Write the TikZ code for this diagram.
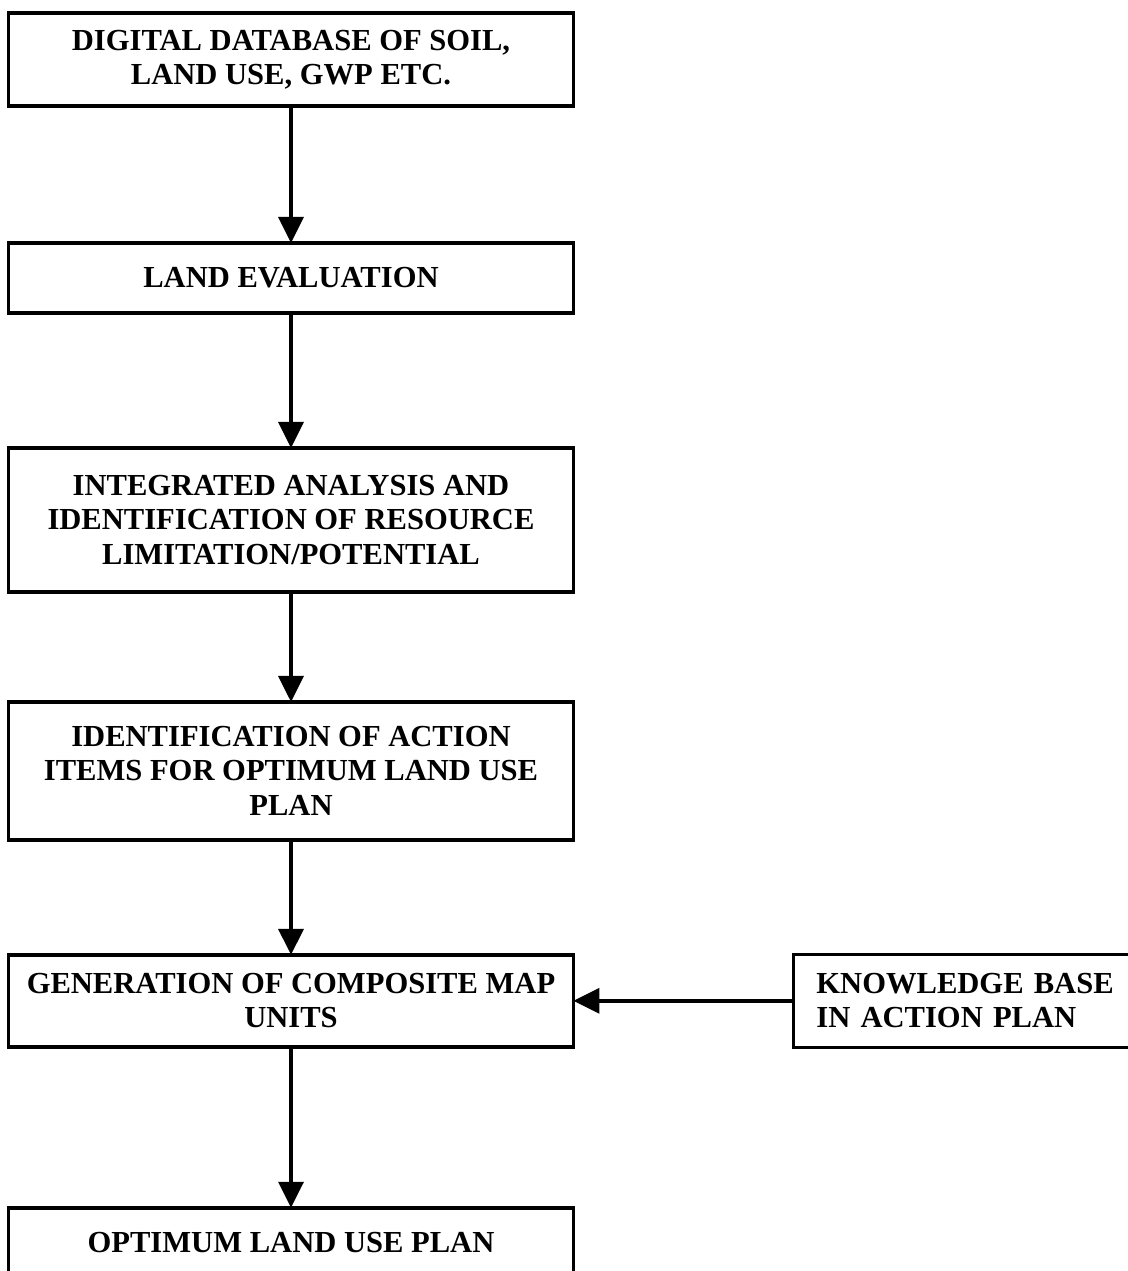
\documentclass[tikz,border=0pt]{standalone}
\usepackage{fontspec}
\setmainfont{Liberation Serif}
\usetikzlibrary{positioning,arrows.meta}

\begin{document}
\begin{tikzpicture}[
    x=0.02cm, y=-0.02cm,
    box/.style={rectangle, draw, line width=2pt, outer sep=0pt, minimum width=11.3cm, inner sep=0pt, align=center,
        font=\fontsize{17.4}{19.5}\selectfont\bfseries},
    kbox/.style={rectangle, draw, line width=2pt, outer sep=0pt, minimum height=1.86cm, inner xsep=0.46cm,
        text width=6.3cm, align=left, font=\fontsize{17.4}{19.5}\selectfont\bfseries},
    arrow/.style={-{Triangle[width=0.5cm,length=0.52cm]}, line width=2pt}
]
\useasboundingbox (0,0) rectangle (1128,1271);
\clip (0,0) rectangle (1128,1271);

\node[box, minimum height=1.86cm] (db) at (291,59.5) {DIGITAL DATABASE OF SOIL,\\LAND USE, GWP ETC.};
\node[box, minimum height=1.40cm, below=2.74cm of db] (landeval) {LAND EVALUATION};
\node[box, minimum height=2.88cm, below=2.70cm of landeval] (analysis) {INTEGRATED ANALYSIS AND\\IDENTIFICATION OF RESOURCE\\LIMITATION/POTENTIAL};
\node[box, minimum height=2.76cm, below=2.20cm of analysis] (actions) {IDENTIFICATION OF ACTION\\ITEMS FOR OPTIMUM LAND USE\\PLAN};
\node[box, minimum height=1.84cm, below=2.30cm of actions] (composite) {GENERATION OF COMPOSITE MAP\\UNITS};
\node[kbox, right=4.4cm of composite] (knowledge) {KNOWLEDGE BASE\\IN ACTION PLAN};
\node[box, minimum height=1.40cm, below=3.22cm of composite] (optplan) {OPTIMUM LAND USE PLAN};

\draw[arrow] (db) -- (landeval);
\draw[arrow] (landeval) -- (analysis);
\draw[arrow] (analysis) -- (actions);
\draw[arrow] (actions) -- (composite);
\draw[arrow] (knowledge) -- (composite);
\draw[arrow] (composite) -- (optplan);

\end{tikzpicture}
\end{document}
